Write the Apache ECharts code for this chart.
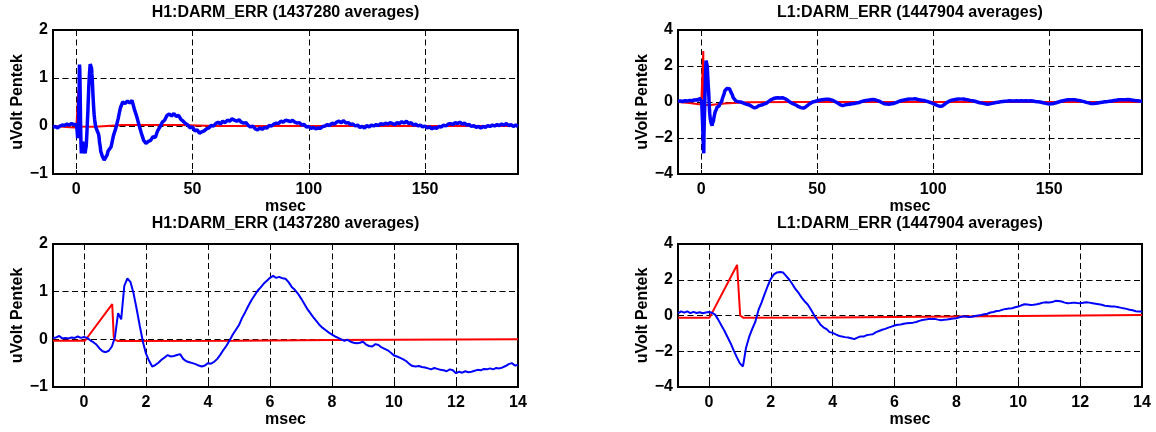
<!DOCTYPE html>
<html><head><meta charset="utf-8">
<script src="https://cdn.jsdelivr.net/npm/echarts@6/dist/echarts.min.js"></script>
<style>html,body{margin:0;padding:0;background:#fff}#c{width:1156px;height:432px}</style>
</head><body><div id="c"></div>
<script>
// ---------------- data ----------------
const h1Title = 'H1:DARM_ERR (1437280 averages)';
const l1Title = 'L1:DARM_ERR (1447904 averages)';
const xName = 'msec';
const yName = 'uVolt Pentek';
const longTicks = [0, 50, 100, 150];
const zoomTicks = [0, 2, 4, 6, 8, 10, 12, 14];

// sampling of the traces (msec)
const PRE_T0 = -10, PRE_DT = 1;     // -10 .. -2
const ZOOM_T0 = -1, ZOOM_DT = 0.1;  // -1 .. 14
const LONG_T0 = 15, LONG_DT = 1;    // 15 .. 190

// H1 blue response
const h1Pre = [-0.03,-0.01,-0.04,0.0,0.02,0.01,0.04,0.02,0.05];
const h1Zoom = [
 0.03,0.04,0.07,0.02,0.03,0.02,0.04,0.03,0.06,0.03,
 0.05,0.03,-0.02,-0.06,-0.11,-0.19,-0.25,-0.27,-0.24,-0.15,
 0.05,0.55,0.42,1.12,1.28,1.2,0.96,0.63,0.28,-0.05,
 -0.3,-0.45,-0.57,-0.54,-0.49,-0.43,-0.38,-0.33,-0.36,-0.35,
 -0.33,-0.31,-0.41,-0.46,-0.48,-0.5,-0.52,-0.55,-0.57,-0.55,
 -0.5,-0.51,-0.47,-0.41,-0.32,-0.22,-0.13,-0.02,0.1,0.2,
 0.3,0.45,0.57,0.7,0.82,0.92,1.02,1.09,1.17,1.23,
 1.29,1.33,1.29,1.31,1.28,1.27,1.2,1.1,1.04,0.96,
 0.86,0.75,0.64,0.55,0.46,0.38,0.3,0.24,0.19,0.14,
 0.1,0.06,0.03,0.0,-0.03,-0.01,-0.05,-0.07,-0.08,-0.07,
 -0.05,-0.11,-0.14,-0.15,-0.1,-0.12,-0.17,-0.2,-0.23,-0.28,
 -0.34,-0.36,-0.39,-0.42,-0.46,-0.52,-0.56,-0.57,-0.56,-0.58,
 -0.59,-0.61,-0.63,-0.6,-0.62,-0.64,-0.65,-0.67,-0.63,-0.65,
 -0.71,-0.68,-0.7,-0.67,-0.69,-0.68,-0.66,-0.64,-0.65,-0.62,
 -0.63,-0.61,-0.63,-0.6,-0.61,-0.59,-0.56,-0.52,-0.5,-0.55,
 -0.54
];
const h1Long = [
 -0.43,-0.2,-0.05,0.15,0.38,0.5,0.47,0.52,0.48,0.53,
 0.35,0.2,0.02,-0.15,-0.3,-0.36,-0.32,-0.3,-0.22,-0.24,
 -0.1,-0.02,0.08,0.12,0.22,0.25,0.21,0.26,0.2,0.22,
 0.14,0.1,0.05,0.02,-0.04,-0.02,-0.1,-0.08,-0.15,-0.12,
 -0.1,-0.06,-0.04,0.01,0.0,0.05,0.08,0.04,0.1,0.07,
 0.12,0.1,0.15,0.12,0.1,0.13,0.08,0.06,0.07,0.01,
 -0.02,0.0,-0.06,-0.08,-0.04,-0.07,-0.03,-0.04,0.01,0.0,
 0.04,0.06,0.05,0.1,0.08,0.12,0.11,0.09,0.12,0.08,
 0.06,0.07,0.02,0.03,-0.02,-0.01,-0.05,-0.03,-0.06,-0.04,
 -0.05,-0.01,0.0,0.03,0.01,0.06,0.04,0.08,0.1,0.07,
 0.11,0.06,0.07,0.03,0.04,0.0,0.02,-0.03,-0.01,-0.04,
 0.01,-0.02,0.02,0.0,0.03,0.01,0.05,0.03,0.06,0.04,
 0.07,0.05,0.03,0.07,0.05,0.09,0.06,0.1,0.05,0.07,
 0.02,0.04,0.0,0.02,-0.02,0.0,-0.04,-0.02,-0.06,-0.03,
 -0.05,-0.01,-0.02,0.02,0.0,0.04,0.05,0.03,0.07,0.05,
 0.08,0.04,0.06,0.02,0.03,-0.01,0.01,-0.03,-0.01,-0.04,
 -0.01,-0.03,0.01,-0.01,0.02,0.0,0.03,0.01,0.04,0.02,
 0.05,0.01,0.03,-0.01,0.02,-0.01
];
// H1 red drive (polyline vertices [msec, value])
const h1RedZoom = [[-1,-0.03],[0.03,-0.03],[0.91,0.74],[0.96,0.05],[1.0,-0.01],[1.1,-0.035],[5,-0.03],[8,-0.015],[14,0.0]];
const h1RedLong = [[-10,0.0],[-1,-0.03],[0.03,-0.03],[0.91,0.74],[0.96,0.05],[1.0,-0.01],[1.1,-0.035],[8,-0.015],[20,0.02],[45,0.02],[60,0.0],[190,0.0]];

// L1 blue response
const l1Pre = [0.04,0.06,0.03,0.07,0.05,0.09,0.07,0.11,0.12];
const l1Zoom = [
 0.11,0.23,0.16,0.23,0.13,0.2,0.14,0.18,0.13,0.17,
 0.2,0.15,0.05,-0.23,-0.55,-0.85,-1.2,-1.55,-1.95,-2.33,
 -2.68,-2.85,-1.8,-1.2,-0.75,-0.35,0.3,0.72,1.2,1.65,
 2.05,2.3,2.41,2.43,2.4,2.2,2.0,1.75,1.47,1.26,
 1.0,0.78,0.6,0.32,0.03,-0.25,-0.5,-0.66,-0.76,-0.93,
 -0.97,-1.06,-1.13,-1.18,-1.21,-1.23,-1.27,-1.32,-1.24,-1.17,
 -1.18,-1.1,-1.07,-1.05,-0.93,-0.87,-0.8,-0.75,-0.68,-0.62,
 -0.56,-0.52,-0.5,-0.46,-0.44,-0.42,-0.4,-0.36,-0.3,-0.25,
 -0.23,-0.2,-0.2,-0.19,-0.23,-0.26,-0.24,-0.22,-0.19,-0.17,
 -0.15,-0.1,-0.06,-0.05,-0.08,-0.07,-0.03,0.0,0.03,0.07,
 0.1,0.17,0.2,0.25,0.27,0.33,0.37,0.39,0.41,0.46,
 0.5,0.57,0.63,0.61,0.59,0.6,0.63,0.67,0.72,0.74,
 0.73,0.75,0.82,0.81,0.78,0.72,0.69,0.7,0.72,0.7,
 0.69,0.71,0.74,0.72,0.69,0.66,0.63,0.6,0.55,0.53,
 0.5,0.51,0.48,0.44,0.4,0.37,0.32,0.29,0.24,0.22,
 0.22
];
const l1Long = [
 0.05,0.02,0.0,-0.05,-0.1,-0.14,-0.18,-0.26,-0.33,-0.28,
 -0.2,-0.17,-0.12,-0.08,0.02,0.12,0.18,0.22,0.24,0.22,
 0.24,0.19,0.12,0.02,-0.06,-0.12,-0.18,-0.26,-0.31,-0.34,
 -0.28,-0.17,-0.08,0.0,0.03,0.07,0.1,0.12,0.14,0.16,
 0.15,0.12,0.07,0.0,-0.07,-0.16,-0.2,-0.16,-0.14,-0.12,
 -0.1,-0.08,-0.05,-0.03,0.02,0.06,0.08,0.1,0.12,0.14,
 0.12,0.08,0.03,-0.04,-0.1,-0.11,-0.12,-0.1,-0.08,-0.03,
 0.02,0.07,0.1,0.13,0.15,0.17,0.16,0.18,0.15,0.12,
 0.1,0.08,0.05,0.01,-0.04,-0.09,-0.15,-0.2,-0.24,-0.22,
 -0.12,-0.02,0.05,0.1,0.13,0.15,0.17,0.16,0.17,0.14,
 0.12,0.09,0.07,0.04,0.0,-0.04,-0.06,-0.09,-0.12,-0.11,
 -0.09,-0.06,-0.03,-0.01,0.01,0.03,0.04,0.05,0.07,0.06,
 0.05,0.07,0.06,0.07,0.05,0.07,0.06,0.07,0.05,0.03,
 0.02,0.0,-0.03,-0.06,-0.09,-0.11,-0.1,-0.08,-0.04,0.0,
 0.04,0.07,0.1,0.12,0.13,0.12,0.13,0.1,0.08,0.05,
 0.02,-0.02,-0.05,-0.08,-0.09,-0.07,-0.05,-0.03,-0.01,0.01,
 0.02,0.04,0.06,0.08,0.1,0.12,0.13,0.12,0.13,0.14,
 0.12,0.1,0.08,0.07,0.05,0.04
];
const l1RedZoom = [[-1,-0.12],[0.02,-0.12],[0.91,2.83],[1.01,0.0],[1.12,-0.13],[4,-0.11],[8,-0.05],[14,0.03]];
const l1RedLong = [[-10,0.0],[-5,-0.05],[-1,-0.12],[0.02,-0.12],[0.91,2.83],[1.01,0.0],[1.12,-0.15],[4,-0.17],[10,-0.08],[20,-0.02],[40,0.0],[190,0.0]];

// ---------------- build ----------------
function pairs(vals, t0, dt) { return vals.map((v, i) => [+(t0 + i * dt).toFixed(3), v]); }
const h1ZoomPts = pairs(h1Zoom, ZOOM_T0, ZOOM_DT);
const l1ZoomPts = pairs(l1Zoom, ZOOM_T0, ZOOM_DT);
const h1LongPts = pairs(h1Pre, PRE_T0, PRE_DT).concat(h1ZoomPts, pairs(h1Long, LONG_T0, LONG_DT));
const l1LongPts = pairs(l1Pre, PRE_T0, PRE_DT).concat(l1ZoomPts, pairs(l1Long, LONG_T0, LONG_DT));

const FONT = '"Liberation Sans", Arial, Helvetica, sans-serif';
const TXT = { fontFamily: FONT, fontWeight: 'bold', fontSize: 16, color: '#000' };
const minus = v => (v < 0 ? '\u2212' + Math.abs(v) : String(v));

const grids = [
  { left: 53, top: 30, width: 465, height: 144 },
  { left: 678, top: 30, width: 464, height: 144 },
  { left: 53, top: 244, width: 465, height: 143 },
  { left: 678, top: 244, width: 464, height: 143 }
].map(g => Object.assign(g, { show: true, borderColor: '#000', borderWidth: 2, backgroundColor: 'rgba(0,0,0,0)' }));

const dash = { color: '#000', width: 1, type: [6, 3.5] };
function xAx(gi, min, max, ticks) {
  return {
    gridIndex: gi, type: 'value', min, max,
    name: xName, nameLocation: 'middle', nameGap: 22, nameTextStyle: TXT,
    axisLine: { show: true, onZero: false, lineStyle: { color: '#000', width: 2 } },
    axisTick: { show: true, inside: true, length: 4, customValues: ticks, lineStyle: { color: '#000' } },
    axisLabel: Object.assign({ customValues: ticks, margin: 8, formatter: minus, showMinLabel: true, showMaxLabel: true }, TXT),
    splitLine: { show: true, lineStyle: dash }
  };
}
function yAx(gi, min, max, interval) {
  return {
    gridIndex: gi, type: 'value', min, max, interval,
    name: yName, nameLocation: 'middle', nameGap: 26, nameTextStyle: TXT,
    axisLine: { show: true, onZero: false, lineStyle: { color: '#000', width: 2 } },
    axisTick: { show: true, inside: true, length: 4, lineStyle: { color: '#000' } },
    axisLabel: Object.assign({ margin: 5, formatter: minus, showMinLabel: true, showMaxLabel: true }, TXT),
    splitLine: { show: true, lineStyle: dash }
  };
}
function line(i, data, color, width) {
  return { type: 'line', xAxisIndex: i, yAxisIndex: i, data, showSymbol: false, symbol: 'none',
    lineStyle: { color, width }, itemStyle: { color }, clip: true, silent: true };
}
function title(x, y, text) {
  return { type: 'text', x, y, silent: true,
    style: { text, fill: '#000', font: 'bold 16px ' + FONT, align: 'center', verticalAlign: 'middle', textAlign: 'center', textVerticalAlign: 'middle' } };
}

const chart = echarts.init(document.getElementById('c'), null, { renderer: 'canvas' });
chart.setOption({
  animation: false,
  backgroundColor: '#fff',
  grid: grids,
  xAxis: [xAx(0, -10, 190, longTicks), xAx(1, -10, 190, longTicks), xAx(2, -1, 14, zoomTicks), xAx(3, -1, 14, zoomTicks)],
  yAxis: [yAx(0, -1, 2, 1), yAx(1, -4, 4, 2), yAx(2, -1, 2, 1), yAx(3, -4, 4, 2)],
  series: [
    line(0, h1RedLong, '#ff0000', 2), line(0, h1LongPts, '#0000ff', 3.5),
    line(1, l1RedLong, '#ff0000', 2), line(1, l1LongPts, '#0000ff', 3.5),
    line(2, h1RedZoom, '#ff0000', 2), line(2, h1ZoomPts, '#0000ff', 2),
    line(3, l1RedZoom, '#ff0000', 2), line(3, l1ZoomPts, '#0000ff', 2)
  ],
  graphic: [
    title(285.5, 13, h1Title), title(910, 13, l1Title),
    title(285.5, 224, h1Title), title(910, 224, l1Title)
  ]
});
</script></body></html>
